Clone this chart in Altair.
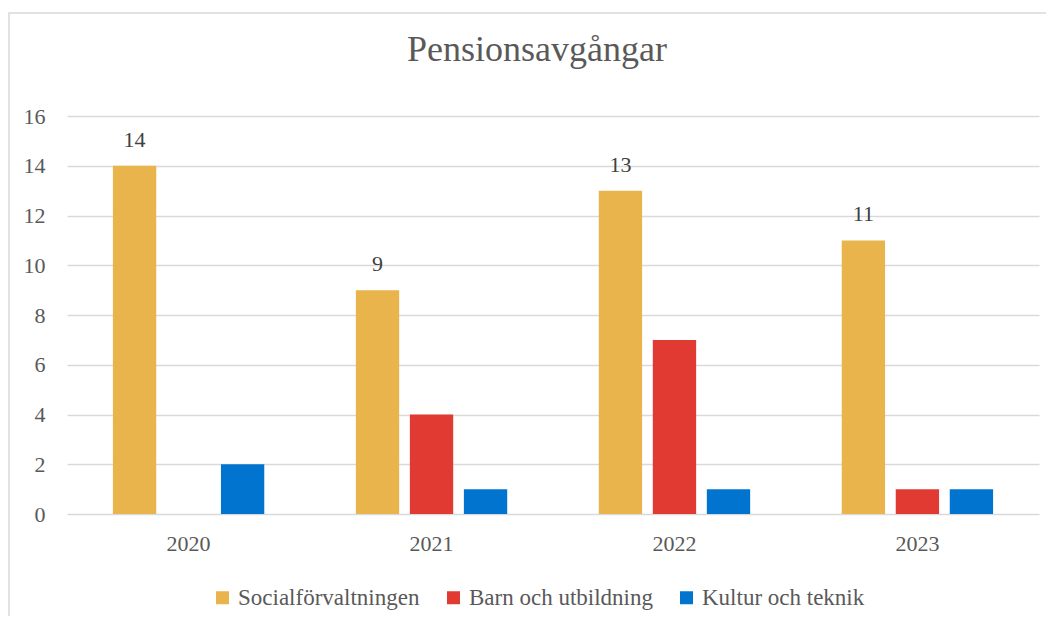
import altair as alt
import pandas as pd

years = ["2020", "2021", "2022", "2023"]
series_names = ["Socialförvaltningen", "Barn och utbildning", "Kultur och teknik"]
social = [14, 9, 13, 11]
barn = [0, 4, 7, 1]
kultur = [2, 1, 1, 1]
colors = ["#E8B44B", "#E03A33", "#0074CF"]

rows = []
for i, y in enumerate(years):
    for name, vals in zip(series_names, [social, barn, kultur]):
        rows.append({"year": y, "series": name, "value": vals[i]})
df = pd.DataFrame(rows)

FONT = "Liberation Serif"

x_enc = alt.X(
    "year:N",
    sort=years,
    scale=alt.Scale(paddingInner=0.377, paddingOuter=0.189),
    axis=alt.Axis(title=None, labelAngle=0, domain=False, ticks=False,
                  labelPadding=19, labelFontSize=22, labelColor="#595959",
                  labelFont=FONT, grid=False),
)
y_enc = alt.Y(
    "value:Q",
    scale=alt.Scale(domain=[0, 16], nice=False),
    axis=alt.Axis(title=None, values=[0, 2, 4, 6, 8, 10, 12, 14, 16],
                  domain=False, ticks=False, labelPadding=22, labelFontSize=22,
                  labelColor="#595959", labelFont=FONT,
                  gridColor="#D9D9D9", gridWidth=1.5),
)
xoff = alt.XOffset("series:N", sort=series_names,
                   scale=alt.Scale(paddingInner=0.198, paddingOuter=0))

bars = alt.Chart(df).mark_bar().encode(
    x=x_enc,
    y=y_enc,
    xOffset=xoff,
    color=alt.Color(
        "series:N",
        sort=series_names,
        scale=alt.Scale(domain=series_names, range=colors),
        legend=alt.Legend(
            title=None, orient="none", legendX=144, legendY=470,
            direction="horizontal", symbolType="square", symbolSize=169,
            symbolStrokeWidth=0, labelFontSize=23, labelFont=FONT,
            labelLimit=400, labelColor="#595959", columnPadding=22,
            labelOffset=4, padding=0,
        ),
    ),
)

labels = alt.Chart(df).transform_filter(
    alt.datum.series == "Socialförvaltningen"
).mark_text(baseline="alphabetic", dy=-19, fontSize=22, font=FONT,
            color="#404040").encode(
    x=alt.X("year:N", sort=years),
    y=alt.Y("value:Q"),
    xOffset=alt.XOffset("series:N", sort=series_names),
    text=alt.Text("value:Q"),
)

frame = alt.Chart(pd.DataFrame({"f": [0]})).mark_rect(
    fillOpacity=0, stroke="#D9D9D9", strokeWidth=1.5
).encode(
    x=alt.value(-58), x2=alt.value(1100),
    y=alt.value(-103), y2=alt.value(600),
)

chart = alt.layer(frame, bars, labels).properties(
    width=972,
    height=398,
    title=alt.TitleParams(
        "Pensionsavgångar", font=FONT, fontSize=36, fontWeight="normal",
        color="#595959", anchor="middle", dx=-16, offset=-57,
    ),
    autosize=alt.AutoSizeParams(type="none"),
    padding={"left": 59, "top": 108, "right": 7, "bottom": 102},
).configure(background="white").configure_view(stroke=None)

chart.save("out.html", embed_options={"renderer": "svg", "actions": False})
